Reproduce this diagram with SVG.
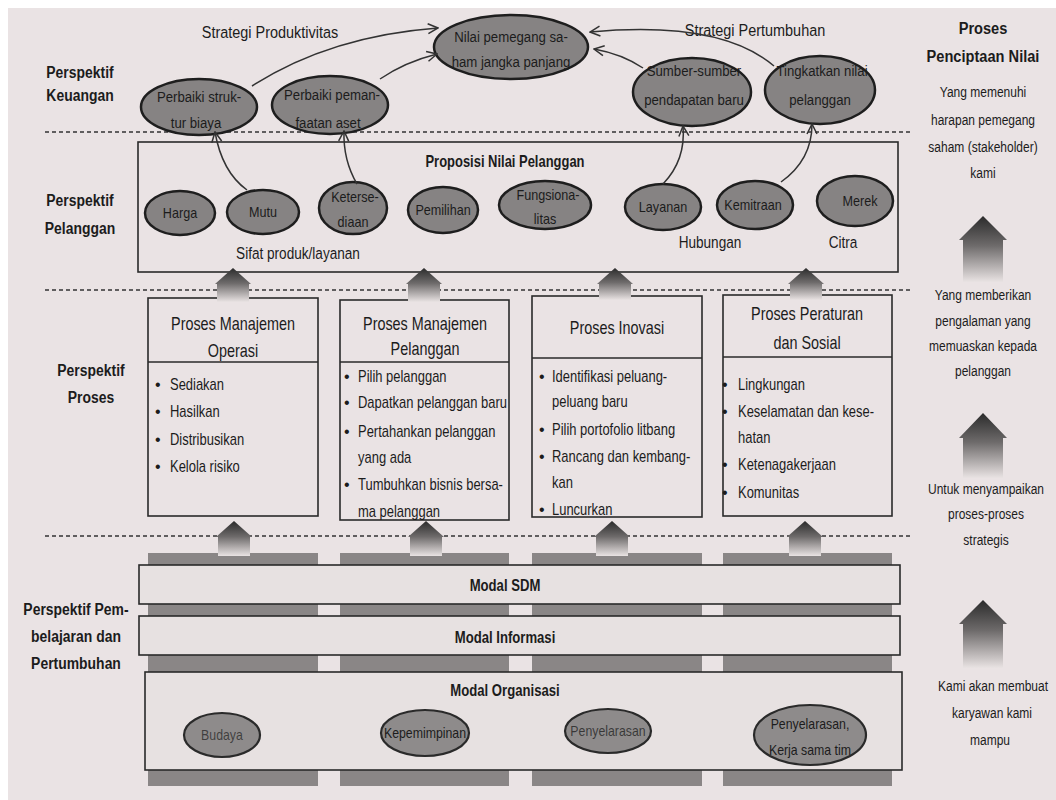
<svg xmlns="http://www.w3.org/2000/svg" width="1056" height="800" viewBox="0 0 1056 800">
  <defs>
    <style>
      text { font-family: "Liberation Sans", Arial, sans-serif; fill: #1c1c1c; }
      .b { font-weight: bold; }
      .m { text-anchor: middle; }
      .s14 { font-size: 14px; }
      .s15 { font-size: 15px; }
      .s16 { font-size: 16px; }
      .s17 { font-size: 17px; }
      .s18 { font-size: 18px; }
      .el { fill: #868383; stroke: #1e1e1e; stroke-width: 2.5; }
      .el2 { fill: #8e8b8b; stroke: #2a2a2a; stroke-width: 2.2; }
      .box { fill: none; stroke: #2a2a2a; stroke-width: 1.6; }
      .band { fill: #e7e1e1; stroke: #2a2a2a; stroke-width: 1.6; }
      .dash { stroke: #333; stroke-width: 1.6; stroke-dasharray: 4 3; }
      .con { fill: none; stroke: #333; stroke-width: 1.5; marker-end: url(#ah); }
      .col { fill: #8a8686; }
      .up { fill: url(#upg); }
    </style>
    <marker id="ah" viewBox="0 0 12 12" refX="11" refY="6" markerWidth="12" markerHeight="12" markerUnits="userSpaceOnUse" orient="auto">
      <path d="M1,1 L11,6 L1,11" fill="none" stroke="#333" stroke-width="1.5"/>
    </marker>
    <linearGradient id="upg" x1="0" y1="0" x2="0" y2="1">
      <stop offset="0" stop-color="#2b2b2b"/>
      <stop offset="0.45" stop-color="#6e6b6b"/>
      <stop offset="1" stop-color="#e9e3e3"/>
    </linearGradient>
  </defs>

  <!-- page -->
  <rect width="1056" height="800" fill="#ffffff"/>
  <rect x="8" y="8" width="1048" height="792" fill="#eae3e4"/>

  <!-- perspective separators -->
  <g id="separators">
    <line class="dash" x1="45" y1="132" x2="912" y2="132"/>
    <line class="dash" x1="45" y1="290" x2="912" y2="290"/>
    <line class="dash" x1="45" y1="536" x2="912" y2="536"/>
  </g>

  <!-- perspective labels -->
  <g id="labels">
    <text class="b s17 m" transform="translate(80 78) scale(0.82 1)">Perspektif</text>
    <text class="b s17 m" transform="translate(80 101) scale(0.82 1)">Keuangan</text>
    <text class="b s17 m" transform="translate(80 206) scale(0.82 1)">Perspektif</text>
    <text class="b s17 m" transform="translate(80 234) scale(0.82 1)">Pelanggan</text>
    <text class="b s17 m" transform="translate(91 376) scale(0.82 1)">Perspektif</text>
    <text class="b s17 m" transform="translate(91 403) scale(0.82 1)">Proses</text>
    <text class="b s17 m" transform="translate(76 615) scale(0.82 1)">Perspektif Pem-</text>
    <text class="b s17 m" transform="translate(76 642) scale(0.82 1)">belajaran dan</text>
    <text class="b s17 m" transform="translate(76 669) scale(0.82 1)">Pertumbuhan</text>
  </g>

  <!-- financial perspective -->
  <g id="strategy-labels">
    <text class="s17 m" transform="translate(270 38) scale(0.85 1)">Strategi Produktivitas</text>
    <text class="s17 m" transform="translate(755 36) scale(0.85 1)">Strategi Pertumbuhan</text>
  </g>
  <g id="nilai-pemegang-saham">
    <ellipse class="el" cx="511" cy="47" rx="77" ry="32"/>
    <text class="s15 m" transform="translate(511 42) scale(0.88 1)">Nilai pemegang sa-</text>
    <text class="s15 m" transform="translate(511 67) scale(0.88 1)">ham jangka panjang</text>
  </g>
  <g id="struktur-biaya">
    <ellipse class="el" cx="199" cy="107" rx="58" ry="28"/>
    <text class="s15 m" transform="translate(199 102) scale(0.88 1)">Perbaiki struk-</text>
    <text class="s15 m" transform="translate(196 128) scale(0.88 1)">tur biaya</text>
  </g>
  <g id="pemanfaatan-aset">
    <ellipse class="el" cx="330" cy="105" rx="58" ry="29"/>
    <text class="s15 m" transform="translate(332 100) scale(0.88 1)">Perbaiki peman-</text>
    <text class="s15 m" transform="translate(328 128) scale(0.88 1)">faatan aset</text>
  </g>
  <g id="sumber-pendapatan">
    <ellipse class="el" cx="692" cy="92" rx="59" ry="34"/>
    <text class="s15 m" transform="translate(694 76) scale(0.88 1)">Sumber-sumber</text>
    <text class="s15 m" transform="translate(694 105) scale(0.88 1)">pendapatan baru</text>
  </g>
  <g id="nilai-pelanggan">
    <ellipse class="el" cx="820" cy="90" rx="55" ry="34"/>
    <text class="s15 m" transform="translate(822 76) scale(0.88 1)">Tingkatkan nilai</text>
    <text class="s15 m" transform="translate(820 105) scale(0.88 1)">pelanggan</text>
  </g>

  <!-- customer perspective -->
  <g id="proposisi">
    <rect class="box" x="138" y="142" width="760" height="130"/>
    <text class="b s16 m" transform="translate(505 167) scale(0.81 1)">Proposisi Nilai Pelanggan</text>
    <text class="s17 m" transform="translate(298 259) scale(0.8 1)">Sifat produk/layanan</text>
    <text class="s17 m" transform="translate(710 248) scale(0.8 1)">Hubungan</text>
    <text class="s17 m" transform="translate(843 248) scale(0.8 1)">Citra</text>
  </g>
  <g id="harga"><ellipse class="el" cx="180" cy="213" rx="35" ry="22"/><text class="s14 m" transform="translate(180 218) scale(0.9 1)">Harga</text></g>
  <g id="mutu"><ellipse class="el" cx="263" cy="212" rx="36" ry="22"/><text class="s14 m" transform="translate(263 217) scale(0.9 1)">Mutu</text></g>
  <g id="ketersediaan"><ellipse class="el" cx="353" cy="208" rx="34" ry="26"/><text class="s14 m" transform="translate(355 202) scale(0.9 1)">Keterse-</text><text class="s14 m" transform="translate(353 227) scale(0.9 1)">diaan</text></g>
  <g id="pemilihan"><ellipse class="el" cx="443" cy="210" rx="35" ry="23"/><text class="s14 m" transform="translate(443 215) scale(0.9 1)">Pemilihan</text></g>
  <g id="fungsionalitas"><ellipse class="el" cx="545" cy="205" rx="46" ry="24"/><text class="s14 m" transform="translate(548 200) scale(0.9 1)">Fungsiona-</text><text class="s14 m" transform="translate(545 224) scale(0.9 1)">litas</text></g>
  <g id="layanan"><ellipse class="el" cx="663" cy="207" rx="38" ry="23"/><text class="s14 m" transform="translate(663 212) scale(0.9 1)">Layanan</text></g>
  <g id="kemitraan"><ellipse class="el" cx="755" cy="205" rx="38" ry="24"/><text class="s14 m" transform="translate(753 210) scale(0.9 1)">Kemitraan</text></g>
  <g id="merek"><ellipse class="el" cx="855" cy="201" rx="38" ry="25"/><text class="s14 m" transform="translate(860 206) scale(0.9 1)">Merek</text></g>

  <!-- internal process perspective -->
  <g id="proses-operasi">
    <rect class="box" x="148" y="298" width="170" height="218"/>
    <line class="box" x1="148" y1="362" x2="318" y2="362"/>
    <text class="s18 m" transform="translate(233 330) scale(0.8 1)">Proses Manajemen</text>
    <text class="s18 m" transform="translate(233 357) scale(0.8 1)">Operasi</text>
    <g class="s16">
      <text x="155" y="390">•</text><text transform="translate(170 390) scale(0.81 1)">Sediakan</text>
      <text x="155" y="417">•</text><text transform="translate(170 417) scale(0.81 1)">Hasilkan</text>
      <text x="155" y="445">•</text><text transform="translate(170 445) scale(0.81 1)">Distribusikan</text>
      <text x="155" y="472">•</text><text transform="translate(170 472) scale(0.81 1)">Kelola risiko</text>
    </g>
  </g>
  <g id="proses-pelanggan">
    <rect class="box" x="340" y="300" width="169" height="220"/>
    <line class="box" x1="340" y1="362" x2="509" y2="362"/>
    <text class="s18 m" transform="translate(425 330) scale(0.8 1)">Proses Manajemen</text>
    <text class="s18 m" transform="translate(425 355) scale(0.8 1)">Pelanggan</text>
    <g class="s16">
      <text x="344" y="382">•</text><text transform="translate(358 382) scale(0.81 1)">Pilih pelanggan</text>
      <text x="344" y="408">•</text><text transform="translate(358 408) scale(0.81 1)">Dapatkan pelanggan baru</text>
      <text x="344" y="437">•</text><text transform="translate(358 437) scale(0.81 1)">Pertahankan pelanggan</text>
      <text transform="translate(358 463) scale(0.81 1)">yang ada</text>
      <text x="344" y="490">•</text><text transform="translate(358 490) scale(0.81 1)">Tumbuhkan bisnis bersa-</text>
      <text transform="translate(358 517) scale(0.81 1)">ma pelanggan</text>
    </g>
  </g>
  <g id="proses-inovasi">
    <rect class="box" x="532" y="296" width="170" height="221"/>
    <line class="box" x1="532" y1="358" x2="702" y2="358"/>
    <text class="s18 m" transform="translate(617 334) scale(0.8 1)">Proses Inovasi</text>
    <g class="s16">
      <text x="539" y="382">•</text><text transform="translate(552 382) scale(0.81 1)">Identifikasi peluang-</text>
      <text transform="translate(552 407) scale(0.81 1)">peluang baru</text>
      <text x="539" y="435">•</text><text transform="translate(552 435) scale(0.81 1)">Pilih portofolio litbang</text>
      <text x="539" y="462">•</text><text transform="translate(552 462) scale(0.81 1)">Rancang dan kembang-</text>
      <text transform="translate(552 488) scale(0.81 1)">kan</text>
      <text x="539" y="515">•</text><text transform="translate(552 515) scale(0.81 1)">Luncurkan</text>
    </g>
  </g>
  <g id="proses-sosial">
    <rect class="box" x="723" y="295" width="169" height="221"/>
    <line class="box" x1="723" y1="357" x2="892" y2="357"/>
    <text class="s18 m" transform="translate(807 320) scale(0.8 1)">Proses Peraturan</text>
    <text class="s18 m" transform="translate(807 349) scale(0.8 1)">dan Sosial</text>
    <g class="s16">
      <text x="722" y="390">•</text><text transform="translate(738 390) scale(0.81 1)">Lingkungan</text>
      <text x="722" y="417">•</text><text transform="translate(738 417) scale(0.81 1)">Keselamatan dan kese-</text>
      <text transform="translate(738 443) scale(0.81 1)">hatan</text>
      <text x="722" y="470">•</text><text transform="translate(738 470) scale(0.81 1)">Ketenagakerjaan</text>
      <text x="722" y="498">•</text><text transform="translate(738 498) scale(0.81 1)">Komunitas</text>
    </g>
  </g>

  <!-- learning and growth perspective -->
  <g id="kolom">
    <rect class="col" x="148" y="553" width="170" height="233"/>
    <rect class="col" x="340" y="553" width="169" height="233"/>
    <rect class="col" x="532" y="553" width="170" height="233"/>
    <rect class="col" x="723" y="553" width="169" height="233"/>
  </g>
  <g id="modal-sdm">
    <rect class="band" x="139" y="565" width="761" height="39"/>
    <text class="b s16 m" transform="translate(505 591) scale(0.82 1)">Modal SDM</text>
  </g>
  <g id="modal-informasi">
    <rect class="band" x="139" y="616" width="761" height="39"/>
    <text class="b s16 m" transform="translate(505 643) scale(0.82 1)">Modal Informasi</text>
  </g>
  <g id="modal-organisasi">
    <rect class="band" x="145" y="672" width="757" height="98"/>
    <text class="b s16 m" transform="translate(505 696) scale(0.82 1)">Modal Organisasi</text>
  </g>
  <g id="budaya"><ellipse class="el2" cx="222" cy="735" rx="38" ry="22"/><text class="s14 m" fill-opacity="0.7" transform="translate(222 740) scale(0.88 1)">Budaya</text></g>
  <g id="kepemimpinan"><ellipse class="el2" cx="425" cy="733" rx="44" ry="23"/><text class="s14 m" transform="translate(425 738) scale(0.88 1)">Kepemimpinan</text></g>
  <g id="penyelarasan"><ellipse class="el2" cx="608" cy="731" rx="43" ry="22"/><text class="s14 m" fill-opacity="0.75" transform="translate(608 736) scale(0.88 1)">Penyelarasan</text></g>
  <g id="kerja-sama"><ellipse class="el2" cx="810" cy="735" rx="56" ry="30"/><text class="s14 m" transform="translate(810 729) scale(0.88 1)">Penyelarasan,</text><text class="s14 m" transform="translate(810 755) scale(0.88 1)">Kerja sama tim</text></g>

  <!-- upward links between perspectives -->
  <g id="panah-naik">
    <path class="up" d="M233,268 L251,284 L249,284 L249,302 L217,302 L217,284 L215,284 Z"/>
    <path class="up" d="M424,268 L442,284 L440,284 L440,302 L408,302 L408,284 L406,284 Z"/>
    <path class="up" d="M615,268 L633,284 L631,284 L631,300 L599,300 L599,284 L597,284 Z"/>
    <path class="up" d="M806,268 L824,284 L822,284 L822,300 L790,300 L790,284 L788,284 Z"/>
    <path class="up" d="M234,521 L252,537 L250,537 L250,556 L218,556 L218,537 L216,537 Z"/>
    <path class="up" d="M426,521 L444,537 L442,537 L442,556 L410,556 L410,537 L408,537 Z"/>
    <path class="up" d="M612,521 L630,537 L628,537 L628,556 L596,556 L596,537 L594,537 Z"/>
    <path class="up" d="M805,521 L823,537 L821,537 L821,556 L789,556 L789,537 L787,537 Z"/>
  </g>

  <!-- value creation column -->
  <g id="penciptaan-nilai">
    <text class="b s17 m" transform="translate(983 34) scale(0.86 1)">Proses</text>
    <text class="b s17 m" transform="translate(983 62) scale(0.86 1)">Penciptaan Nilai</text>
    <g class="s15 m">
      <text transform="translate(983 97) scale(0.8 1)">Yang memenuhi</text>
      <text transform="translate(983 125) scale(0.8 1)">harapan pemegang</text>
      <text transform="translate(983 152) scale(0.8 1)">saham (stakeholder)</text>
      <text transform="translate(983 178) scale(0.8 1)">kami</text>
      <text transform="translate(983 300) scale(0.8 1)">Yang memberikan</text>
      <text transform="translate(983 326) scale(0.8 1)">pengalaman yang</text>
      <text transform="translate(983 351) scale(0.8 1)">memuaskan kepada</text>
      <text transform="translate(983 376) scale(0.8 1)">pelanggan</text>
      <text transform="translate(986 494) scale(0.8 1)">Untuk menyampaikan</text>
      <text transform="translate(986 519) scale(0.8 1)">proses-proses</text>
      <text transform="translate(986 545) scale(0.8 1)">strategis</text>
      <text transform="translate(993 691) scale(0.8 1)">Kami akan membuat</text>
      <text transform="translate(992 718) scale(0.8 1)">karyawan kami</text>
      <text transform="translate(990 745) scale(0.8 1)">mampu</text>
    </g>
    <path class="up" d="M983,216 L1007,240 L1003,240 L1003,282 L963,282 L963,240 L959,240 Z"/>
    <path class="up" d="M983,413 L1007,438 L1003,438 L1003,478 L963,478 L963,438 L959,438 Z"/>
    <path class="up" d="M983,600 L1007,624 L1003,624 L1003,668 L963,668 L963,624 L959,624 Z"/>
  </g>

  <!-- connectors -->
  <g id="connectors">
    <path class="con" d="M252,86 Q330,36 438,28"/>
    <path class="con" d="M380,79 Q405,62 437,54"/>
    <path class="con" d="M774,66 Q720,20 590,32"/>
    <path class="con" d="M643,68 Q622,54 594,49"/>
    <path class="con" d="M247,190 Q222,172 215,132"/>
    <path class="con" d="M357,184 Q343,160 344,131"/>
    <path class="con" d="M663,184 Q686,160 683,126"/>
    <path class="con" d="M781,182 Q812,160 812,124"/>
  </g>
</svg>
